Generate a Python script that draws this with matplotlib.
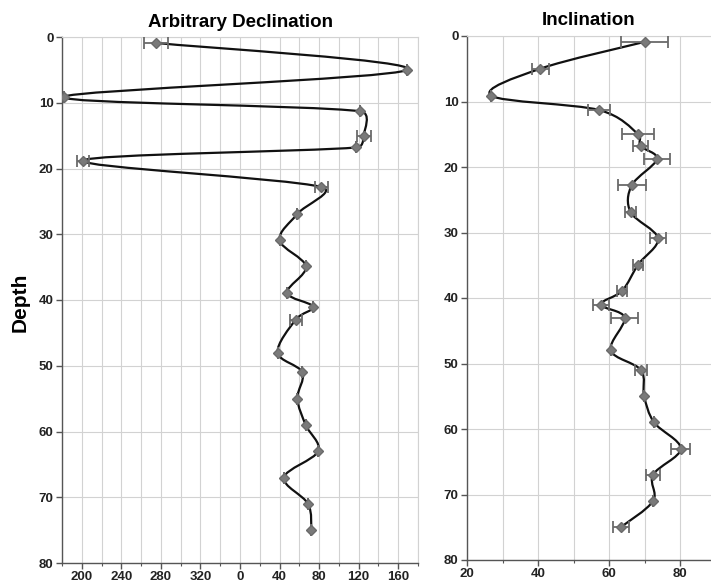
import matplotlib
matplotlib.use('Agg')
import matplotlib.pyplot as plt
from matplotlib.path import Path
from matplotlib.patches import PathPatch
from matplotlib.ticker import MultipleLocator, FixedLocator
import numpy as np

plt.rcParams['font.family'] = ['Liberation Sans', 'DejaVu Sans']

# sample depths shared by both panels
depth = [0.9, 5.0, 9.1, 11.3, 15.0, 16.8, 18.8, 22.8, 26.9, 30.9, 34.9, 38.9,
         41.0, 43.0, 48.0, 51.0, 55.0, 59.0, 63.0, 67.0, 71.0, 75.0]

# declination in degrees (0-360), axis runs 180 -> 360/0 -> 180
declination = [275, 169, 181.6, 121.5, 125, 117.5, 201, 82, 58, 40, 66.7, 47.6,
               73.6, 56.3, 38, 63, 58, 66.4, 79, 44.4, 68.8, 72.2]
dec_err = [12.5, 0, 0, 0, 7, 0, 6, 6.5, 0, 0, 0, 0, 0, 6, 0, 0, 0, 0, 0, 0, 0, 0]

inclination = [70, 40.6, 26.8, 57.2, 68.2, 68.9, 73.5, 66.4, 66.1, 73.8, 68.2, 63.7,
               57.7, 64.4, 60.5, 69, 69.9, 72.7, 80.2, 72.4, 72.4, 63.3]
inc_err = [6.5, 2.4, 0, 3, 4.4, 2, 3.7, 4, 1.5, 2.2, 1.5, 1.5, 2.3, 3.7, 0, 1.8,
           0, 0, 2.6, 1.9, 0, 2.2]

dec_ticks = [200, 240, 280, 320, 0, 40, 80, 120, 160]
inc_ticks = [20, 40, 60, 80]
depth_ticks = [0, 10, 20, 30, 40, 50, 60, 70, 80]


def wrap(d):
    # put declination on the 180..540 axis
    return d if d >= 180 else d + 360


def smooth_path(xs, ys, sx, sy):
    # excel-like smoothed line; arm lengths limited as excel does,
    # distances measured in screen pixels (sx, sy = px per unit)
    pts = np.column_stack([xs, ys]).astype(float)
    scr = pts * [sx, sy]
    n = len(pts)
    verts = [pts[0]]
    codes = [Path.MOVETO]
    for i in range(n - 1):
        i0, i1, i2, i3 = max(i - 1, 0), i, i + 1, min(i + 2, n - 1)
        d02 = np.hypot(*(scr[i2] - scr[i0]))
        d13 = np.hypot(*(scr[i3] - scr[i1]))
        d12 = np.hypot(*(scr[i2] - scr[i1]))
        f1 = f2 = 1 / 6.
        if d02 / 6. >= d12 / 2. and d02 > 0:
            f1 = d12 / (2 * d02)
        if d13 / 6. >= d12 / 2. and d13 > 0:
            f2 = d12 / (2 * d13)
        verts += [pts[i1] + (pts[i2] - pts[i0]) * f1,
                  pts[i2] - (pts[i3] - pts[i1]) * f2, pts[i2]]
        codes += [Path.CURVE4] * 3
    return Path(verts, codes)


def style(ax):
    ax.set_ylim(80, 0)
    ax.yaxis.set_major_locator(FixedLocator(depth_ticks))
    ax.grid(True, which='both', color='#d2d2d2', lw=0.8)
    ax.set_axisbelow(True)
    for s in ['top', 'right']:
        ax.spines[s].set_color('#d2d2d2')
        ax.spines[s].set_linewidth(0.8)
    for s in ['left', 'bottom']:
        ax.spines[s].set_color('#555555')
        ax.spines[s].set_linewidth(1.0)
    ax.tick_params(which='major', direction='out', length=4, width=1,
                   color='#555555', labelsize=9.5, labelcolor='#222222', pad=2)
    ax.tick_params(which='minor', direction='out', length=2.5, width=0.8,
                   color='#555555')
    for lab in ax.get_xticklabels() + ax.get_yticklabels():
        lab.set_fontweight('bold')


def draw(ax, xs, err, sx, sy):
    ax.add_patch(PathPatch(smooth_path(xs, depth, sx, sy), fill=False,
                           edgecolor='#111111', lw=1.6, zorder=3))
    ax.errorbar(xs, depth, xerr=err, fmt='none', ecolor='#6a6a6a',
                elinewidth=1.3, capsize=4, capthick=1.3, zorder=4)
    ax.plot(xs, depth, 'D', color='#7a7a7a', ms=4.8, mec='#6a6a6a', zorder=5)


fig = plt.figure(figsize=(7.11, 5.84), dpi=100)

# left panel: declination
ax1 = fig.add_axes([62 / 711, 1 - 563 / 584, 356 / 711, 526 / 584])
dec_x = [wrap(d) for d in declination]
draw(ax1, dec_x, dec_err, 356 / 360, 526 / 80)
ax1.set_xlim(180, 540)
ax1.xaxis.set_major_locator(FixedLocator([wrap(t) for t in dec_ticks]))
ax1.xaxis.set_minor_locator(MultipleLocator(20))
ax1.set_xticklabels([str(t) for t in dec_ticks])
ax1.grid(False, which='minor')
style(ax1)
ax1.set_title('Arbitrary Declination', fontsize=13.5, fontweight='bold', pad=7)

# right panel: inclination
ax2 = fig.add_axes([467 / 711, 1 - 560 / 584, 244 / 711, 524 / 584])
draw(ax2, inclination, inc_err, 3.55, 524 / 80)
ax2.set_xlim(20, 20 + 244 / 3.55)
ax2.xaxis.set_major_locator(FixedLocator(inc_ticks))
ax2.xaxis.set_minor_locator(MultipleLocator(10))
style(ax2)
ax2.spines['right'].set_visible(False)
ax2.set_title('Inclination', fontsize=13.5, fontweight='bold', pad=8)

fig.text(20 / 711, 1 - 302 / 584, 'Depth', rotation=90, fontsize=15,
         fontweight='bold', ha='center', va='center')

fig.savefig('out.png', dpi=100)
